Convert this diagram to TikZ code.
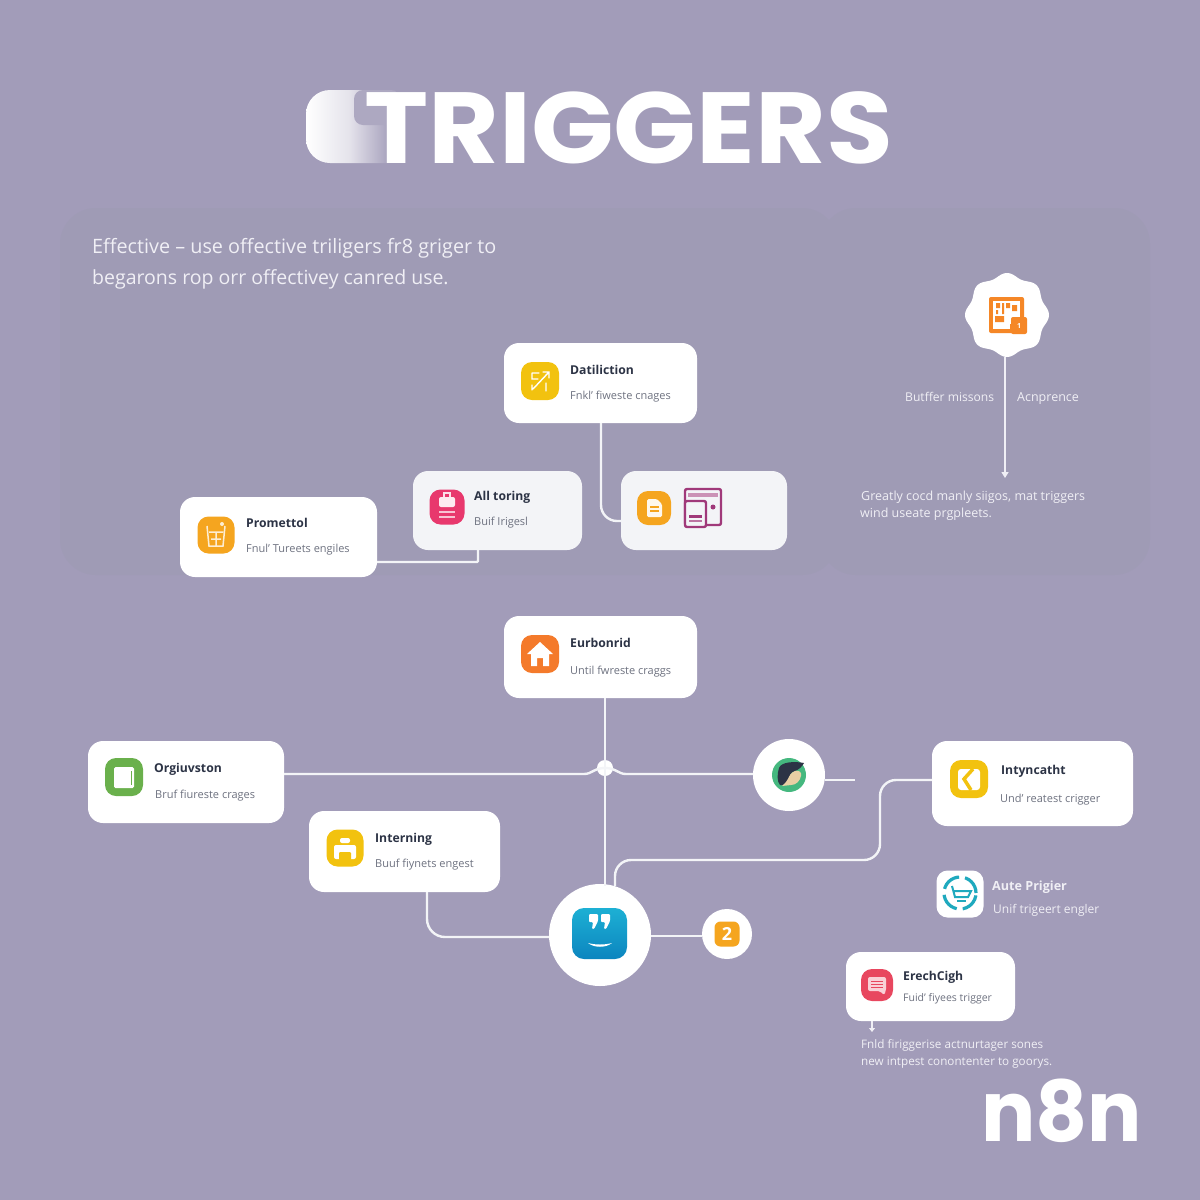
\documentclass[tikz,border=0pt]{standalone}
\usepackage{fontspec}
\setmainfont{Open Sans}
\newfontfamily\titlefont{Poppins}
\usetikzlibrary{arrows.meta,calc}
\definecolor{bgc}{HTML}{A29CB9}
\definecolor{panelc}{HTML}{9F9BB5}
\definecolor{ink}{HTML}{2C3345}
\definecolor{subink}{HTML}{6E7280}
\definecolor{softw}{HTML}{F0EFF5}
\definecolor{greyw}{HTML}{F3F4F7}
\definecolor{yel}{HTML}{F2C20F}
\definecolor{ora}{HTML}{F5A51F}
\definecolor{ora2}{HTML}{F47A2B}
\definecolor{pnk}{HTML}{E8386D}
\definecolor{rdp}{HTML}{E8475F}
\definecolor{grn}{HTML}{6AB04C}
\definecolor{plum}{HTML}{A0397A}
\definecolor{teal1}{HTML}{1FA9BE}
\definecolor{skyt}{HTML}{1DB0D4}
\definecolor{skyb}{HTML}{0C85BF}
\definecolor{facegreen}{HTML}{45B87F}
\definecolor{skin}{HTML}{E8CFA4}
\tikzset{
  cardbox/.style={draw=none,fill=white,rounded corners=15pt,inner sep=0,outer sep=0,anchor=north west},
  iconbox/.style={draw=none,rounded corners=11pt,inner sep=0,outer sep=0,minimum size=#1},
  link/.style={draw=greyw,line width=2.4pt,rounded corners=16pt},
  tip/.style={-{Triangle[length=6pt,width=7pt]}},
  ctitle/.style={anchor=base west,inner sep=0,text=ink,font=\fontsize{12.2}{15}\selectfont\bfseries},
  csub/.style={anchor=base west,inner sep=0,text=subink,font=\fontsize{11}{12}\selectfont},
  wtext/.style={anchor=base west,inner sep=0,text=softw,font=\fontsize{12.5}{15}\selectfont},
  glyph/.style={fill=white,draw=none},
  glyphl/.style={draw=white,line width=1.6pt},
}
\newcommand{\cardat}[6]{\node[cardbox,fill=#6,minimum width={(#4-#2)*1pt},minimum height={(#5-#3)*1pt}] (#1) at (#2,#3) {};}
\begin{document}
\begin{tikzpicture}[x=1pt,y=-1pt]
\useasboundingbox (0,0) rectangle (1200,1200);
\fill[bgc] (0,0) rectangle (1200,1200);
% panels
\fill[panelc,rounded corners=36pt] (60,208) rectangle (838,575);
\fill[panelc,rounded corners=36pt] (820,208) rectangle (1150,575);
% title
\begin{scope}
\clip[rounded corners=24pt] (306,90) rectangle (440,163);
\shade[left color=white,right color=bgc,middle color=white!72!bgc] (306,90) rectangle (392,163);
\end{scope}
\fill[bgc!88!white,rounded corners=9pt] (354,90) -- (400,90) -- (400,125) -- (354,125) -- cycle;
\node[anchor=base west,inner sep=0,text=white] (title) at (364,163) {\titlefont\fontsize{101}{101}\selectfont\bfseries\scalebox{1.075}[1]{TRIGGERS}};
% intro
\node[wtext,font=\fontsize{19.8}{22}\selectfont] (intro1) at (92,253) {Effective – use offective triligers fr8 griger to};
\node[wtext,font=\fontsize{19.5}{22}\selectfont] (intro2) at (92,284) {begarons rop orr offectivey canred use.};
% upper cards
\cardat{dat}{504}{343}{697}{423}{white}
\cardat{allt}{413}{471}{582}{550}{greyw}
\cardat{docc}{621}{471}{787}{550}{greyw}
\cardat{prom}{180}{497}{377}{577}{white}
% lower cards
\cardat{eurb}{504}{616}{697}{698}{white}
\cardat{orgi}{88}{741}{284}{823}{white}
\cardat{intn}{309}{811}{500}{892}{white}
\cardat{inty}{932}{741}{1133}{826}{white}
\cardat{erec}{846}{952}{1015}{1021}{white}
% round hubs
\node[circle,fill=white,minimum size=72pt,inner sep=0,outer sep=0] (face) at (789,775) {};
\node[circle,fill=white,minimum size=102pt,inner sep=0,outer sep=0] (hub) at (600,935) {};
\node[circle,fill=white,minimum size=50pt,inner sep=0,outer sep=0] (badge) at (727,934) {};
\node[circle,fill=white,minimum size=16pt,inner sep=0,outer sep=0] (junc) at (605,768) {};
\coordinate (stub) at (855,780);
\coordinate (qrend) at (1005,478);
\coordinate (erend) at (872,1032);
% connectors
\draw[link] (dat.south -| 601,0) -- (601,521) -- ($(docc.west)+(0,10.5)$);
\draw[link,rounded corners=1pt] ($(prom.south east)+(0,-15)$) -- (478,562) -- (478,550);
\draw[link,rounded corners=0pt] (orgi.east |- 0,774) -- (584,774) .. controls (592,774) and (594,768) .. (junc.center);
\draw[link,rounded corners=0pt] (junc.center) .. controls (616,768) and (618,774) .. (626,774) -- (face.west |- 0,774);
\draw[link,rounded corners=0pt] (605,698) -- (junc.center) -- (605,886);
\draw[link,rounded corners=0pt] (face.east |- 0,780) -- (stub);
\draw[link,rounded corners=16pt] (615,886) -- (615,860) -- (880,860) -- (880,780) -- (inty.west |- 0,780);
\draw[link,rounded corners=18pt] (427,892) -- (427,937) -- (hub.west |- 0,937);
\draw[link,rounded corners=0pt] (hub.east |- 0,936) -- (badge.west |- 0,936);
% right panel badge
\fill[white] plot[domain=0:360,samples=145,smooth] ({1007+(40+2*cos(8*\x))*cos(\x)},{315+(40+2*cos(8*\x))*sin(\x)}) -- cycle;
\node[inner sep=0,minimum size=1pt] (qr) at (1007,315) {};
\draw[draw=softw,line width=2pt,tip] (1005,357) -- (qrend);
\node[wtext,font=\fontsize{12.1}{15}\selectfont] (bm) at (905,401) {Butffer missons};
\node[wtext] (ac) at (1017,401) {Acnprence};
\node[wtext] (gr1) at (861,500) {Greatly cocd manly siigos, mat triggers};
\node[wtext] (gr2) at (860,517) {wind useate prgpleets.};
% card texts
\node[ctitle] at (570,374) {Datiliction};
\node[csub] at (570,399) {Fnkl' fiweste cnages};
\node[ctitle] at (474,500) {All toring};
\node[csub] at (474,525) {Buif Irigesl};
\node[ctitle] at (246,527) {Promettol};
\node[csub] at (246,552) {Fnul' Tureets engiles};
\node[ctitle] at (570,647) {Eurbonrid};
\node[csub] at (570,674) {Until fwreste craggs};
\node[ctitle] at (154,772) {Orgiuvston};
\node[csub] at (155,798) {Bruf fiureste crages};
\node[ctitle] at (375,842) {Interning};
\node[csub] at (375,867) {Buuf fiynets engest};
\node[ctitle] at (1001,774) {Intyncatht};
\node[csub] at (1000,802) {Und' reatest crigger};
\node[ctitle] at (903,980) {ErechCigh};
\node[csub,font=\fontsize{10.5}{12}\selectfont] at (903,1001) {Fuid' fiyees trigger};
\node[anchor=base west,inner sep=0,text=softw,font=\fontsize{12.6}{15}\selectfont\bfseries] (aut) at (992,890) {Aute Prigier};
\node[wtext,font=\fontsize{12}{14}\selectfont] (aut2) at (993,913) {Unif trigeert engler};
\draw[draw=softw,line width=1.6pt,-{Triangle[length=4pt,width=6pt]}] (erec.south -| 872,0) -- (erend);
\node[wtext,font=\fontsize{11.7}{14}\selectfont] (fn1) at (861,1048) {Fnld firiggerise actnurtager sones};
\node[wtext,font=\fontsize{11.7}{14}\selectfont] (fn2) at (861,1065) {new intpest conontenter to goorys.};
\node[anchor=base west,inner sep=0,text=white] (logo) at (981,1141) {\titlefont\fontsize{84}{84}\selectfont\bfseries\scalebox{0.96}[1]{n8n}};
% ----- icons
% dat
\node[iconbox=38pt,fill=yel] (i1) at (540,381) {};
\draw[glyphl,line width=1.4pt,line cap=round] (533,389) -- (549,372) (543,372) -- (549,372) -- (549,378) (532,373) -- (539,373) (532,373) -- (532,379) -- (538,379) (546,383) -- (546,391) (532,385) -- (532,390);
% allt
\node[iconbox=35pt,fill=pnk] (i2) at (447,507) {};
\fill[white!90!pnk,rounded corners=2pt] (439,497) rectangle (455,507);
\draw[white!85!pnk,line width=1.2pt] (444,497) -- (444,493) -- (450,493) -- (450,497);
\draw[white!70!pnk,line width=1.2pt] (439,512) -- (455,512) (439,517) -- (455,517);
% doc
\node[iconbox=34pt,fill=ora] (i3) at (654,508) {};
\fill[white!92!ora,rounded corners=1.5pt] (647,499) -- (657,499) -- (662,504) -- (662,517) -- (647,517) -- cycle;
\draw[ora,line width=1.2pt] (650,507) -- (659,507) (650,511) -- (659,511);
% window icon
\draw[plum,line width=2.4pt,rounded corners=2pt] (685,489) rectangle (721,525);
\fill[plum!55!white] (688,493) rectangle (718,497);
\fill[greyw,draw=plum,line width=2.4pt,rounded corners=2pt] (685,501) rectangle (706,527);
\fill[plum] (689,515) rectangle (702,518);
\fill[plum!70!white] (689,520) rectangle (702,522);
\fill[plum] (713,507) circle (2.5pt);
% prom
\node[iconbox=37pt,fill=ora] (i4) at (216,535) {};
\draw[white!80!ora,line width=1.5pt] (207,526) -- (209,546) -- (223,546) -- (225,526) (209,532) -- (223,532) (216,532) -- (216,546) (211,539) -- (221,539);
\fill[white!80!ora] (222,524) circle (2pt);
% eurb
\node[iconbox=38pt,fill=ora2] (i5) at (540,654) {};
\fill[white] (540,642) -- (553,654) -- (549,654) -- (549,666) -- (543,666) -- (543,658) -- (537,658) -- (537,666) -- (531,666) -- (531,654) -- (527,654) -- cycle;
% orgi
\node[iconbox=38pt,fill=grn] (i6) at (124,777) {};
\fill[white,rounded corners=1.5pt] (114,767) rectangle (134,788);
\draw[grn,line width=1pt] (131,771) -- (131,785);
% intern
\node[iconbox=37pt,fill=yel] (i7) at (345,848) {};
\fill[white,rounded corners=2pt] (340,838) rectangle (350,843);
\fill[white,rounded corners=2pt] (334,845) rectangle (356,859);
\fill[yel,rounded corners=1pt] (339,852) rectangle (351,860);
% inty
\node[iconbox=38pt,fill=yel] (i8) at (969,779) {};
\fill[white,rounded corners=3pt] (958,769) rectangle (980,790);
\draw[yel,line width=3.5pt] (973,769) -- (964,779) -- (971,790);
% aute
\node[iconbox=47pt,fill=white] (i9) at (960,894) {};
\draw[teal1,line width=3.2pt,dash pattern=on 20pt off 6pt] (960,893) circle (16pt);
\draw[teal1,line width=2pt] (952,886) -- (955,897) -- (968,897) -- (971,891) -- (954,891);
\draw[teal1,line width=1.4pt] (957,901) -- (966,901);
% erec
\node[iconbox=32pt,fill=rdp] (i10) at (877,985) {};
\fill[white!75!rdp,rounded corners=2pt] (868,977) -- (886,977) -- (886,991) -- (884,995) -- (880,991) -- (868,991) -- cycle;
\draw[rdp,line width=1pt] (871,981) -- (883,981) (871,984) -- (883,984) (871,987) -- (883,987);
% qr
\fill[ora2!90!yellow,rounded corners=2pt] (989,297) rectangle (1024,333);
\fill[white] (993,301) rectangle (1020,324);
\fill[white] (993,324) rectangle (1010,329);
\fill[ora2!90!yellow] (1002,303) rectangle (1004,314) (996,303) rectangle (1000,308) (996,310) rectangle (998,314) (995,316) rectangle (1004,322) (1006,303) rectangle (1010,308) (1012,305) rectangle (1017,311);
\fill[ora2!90!yellow,rounded corners=2pt] (1011,317) rectangle (1027,334);
\node[inner sep=0,text=white,font=\fontsize{7}{7}\selectfont\bfseries] at (1019,326) {1};
% hub icon
\shade[top color=skyt,bottom color=skyb,rounded corners=12pt] (572,908) rectangle (627,959);
\fill[white,rounded corners=1pt] (589,914) -- (598,914) -- (598,921) -- (594,929) -- (592,929) -- (593,922) -- (589,922) -- cycle (601,914) -- (610,914) -- (610,921) -- (606,929) -- (604,929) -- (605,922) -- (601,922) -- cycle;
\fill[white] (588,943) .. controls (595,945) and (605,945) .. (612,943) .. controls (606,948) and (594,948) .. (588,943) -- cycle;
% face
\fill[facegreen] (789,775) circle (17pt);
\fill[ink] (779,768) .. controls (781,762) and (794,761) .. (804,763) .. controls (802,767) and (798,770) .. (795,771) .. controls (790,772) and (790,776) .. (788,780) .. controls (786,784) and (782,786) .. (780,785) .. controls (777,782) and (777,774) .. (779,768) -- cycle;
\fill[skin] (795,771) .. controls (799,770) and (802,772) .. (801,776) .. controls (800,781) and (796,785) .. (791,785) -- (782,786) .. controls (786,783) and (788,779) .. (790,775) .. controls (791,773) and (793,772) .. (795,771) -- cycle;
% badge
\node[iconbox=25pt,rounded corners=6pt,fill=ora,text=white,font=\fontsize{18}{18}\selectfont\bfseries] (two) at (727,934) {2};
\end{tikzpicture}
\end{document}
